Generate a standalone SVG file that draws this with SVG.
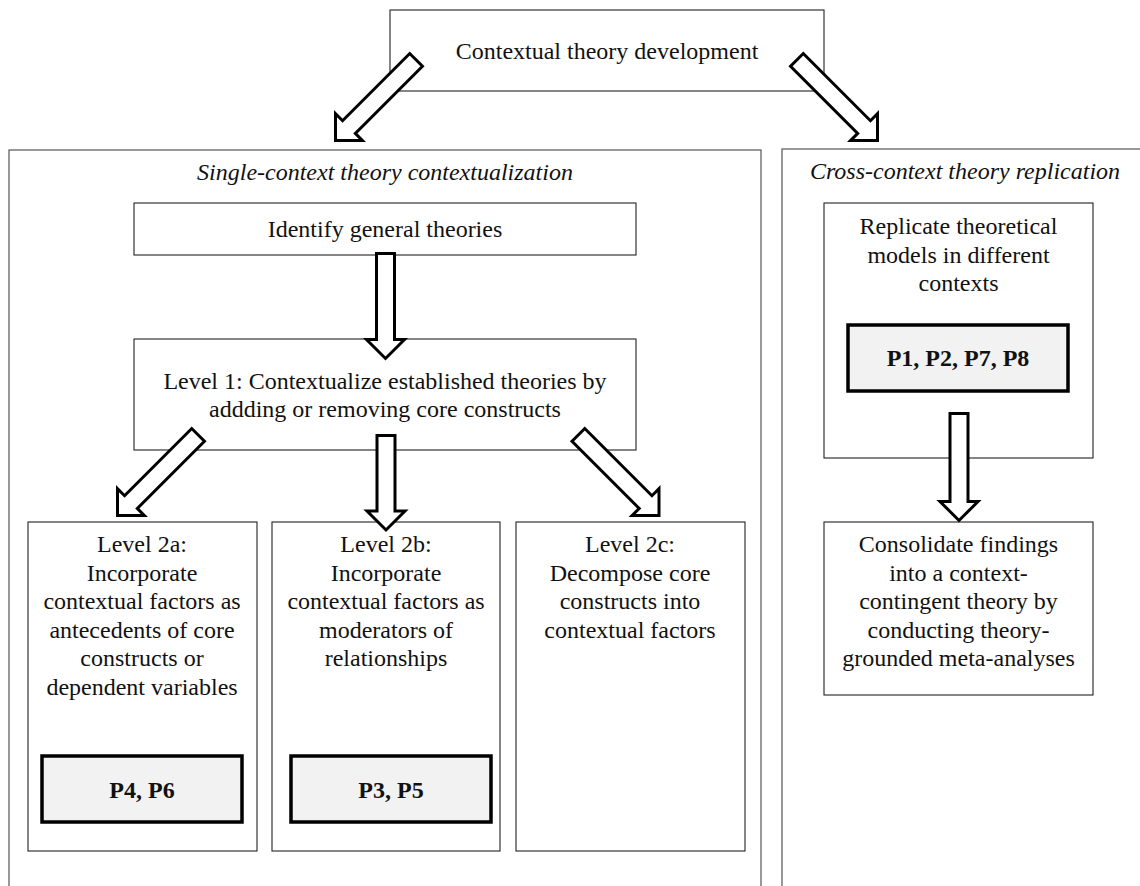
<svg xmlns="http://www.w3.org/2000/svg" width="1140" height="886" viewBox="0 0 1140 886">
<style>
  .cont{fill:none;stroke:#555;stroke-width:1.2}
  .box{fill:#fff;stroke:#222;stroke-width:1.1}
  .pbox{fill:#f2f2f2;stroke:#000;stroke-width:3.5}
  .t{font-family:"Liberation Serif","Times New Roman",serif;font-size:24px;fill:#111;text-anchor:middle}
  .it{font-style:italic}
  .b{font-weight:bold}
  .arr{fill:#fff;stroke:#000;stroke-width:3;stroke-linejoin:miter}
</style>
<defs>
  <path id="diag" d="M-114,-9 L-19,-9 L-19,-19 L0,0 L-19,19 L-19,9 L-114,9 Z"/>
</defs>
<rect width="1140" height="886" fill="#fff"/>

<g id="single-context">
  <rect class="cont" x="9" y="150" width="752" height="760"/>
  <text class="t it" x="385" y="180">Single-context theory contextualization</text>
</g>
<g id="cross-context">
  <rect class="cont" x="782" y="149" width="366" height="760"/>
  <text class="t it" x="965" y="179">Cross-context theory replication</text>
</g>

<g id="top">
  <rect class="box" x="390" y="10" width="434" height="81"/>
  <text class="t" x="607" y="59">Contextual theory development</text>
</g>

<g id="identify">
  <rect class="box" x="134" y="203" width="502" height="52"/>
  <text class="t" x="385" y="237">Identify general theories</text>
</g>

<g id="level1">
  <rect class="box" x="134" y="339" width="502" height="111"/>
  <text class="t" x="385" y="388.5">Level 1: Contextualize established theories by</text>
  <text class="t" x="385" y="417">addding or removing core constructs</text>
</g>

<g id="level2a">
  <rect class="box" x="28" y="522" width="229" height="329"/>
  <text class="t" x="142" y="552">Level 2a:</text>
  <text class="t" x="142" y="580.5">Incorporate</text>
  <text class="t" x="142" y="609">contextual factors as</text>
  <text class="t" x="142" y="637.5">antecedents of core</text>
  <text class="t" x="142" y="666">constructs or</text>
  <text class="t" x="142" y="694.5">dependent variables</text>
  <rect class="pbox" x="42" y="756" width="200" height="66"/>
  <text class="t b" x="142" y="798">P4, P6</text>
</g>

<g id="level2b">
  <rect class="box" x="272" y="522" width="228" height="329"/>
  <text class="t" x="386" y="552">Level 2b:</text>
  <text class="t" x="386" y="580.5">Incorporate</text>
  <text class="t" x="386" y="609">contextual factors as</text>
  <text class="t" x="386" y="637.5">moderators of</text>
  <text class="t" x="386" y="666">relationships</text>
  <rect class="pbox" x="291" y="756" width="200" height="66"/>
  <text class="t b" x="391" y="798">P3, P5</text>
</g>

<g id="level2c">
  <rect class="box" x="516" y="522" width="229" height="329"/>
  <text class="t" x="630" y="552">Level 2c:</text>
  <text class="t" x="630" y="580.5">Decompose core</text>
  <text class="t" x="630" y="609">constructs into</text>
  <text class="t" x="630" y="637.5">contextual factors</text>
</g>

<g id="replicate">
  <rect class="box" x="824" y="203" width="269" height="255"/>
  <text class="t" x="958.5" y="234">Replicate theoretical</text>
  <text class="t" x="958.5" y="262.5">models in different</text>
  <text class="t" x="958.5" y="291">contexts</text>
  <rect class="pbox" x="848" y="325" width="220" height="66"/>
  <text class="t b" x="958" y="366">P1, P2, P7, P8</text>
</g>

<g id="consolidate">
  <rect class="box" x="824" y="522" width="269" height="173"/>
  <text class="t" x="958.5" y="552">Consolidate findings</text>
  <text class="t" x="958.5" y="580.5">into a context-</text>
  <text class="t" x="958.5" y="609">contingent theory by</text>
  <text class="t" x="958.5" y="637.5">conducting theory-</text>
  <text class="t" x="958.5" y="666">grounded meta-analyses</text>
</g>

<g id="connectors">
  <use href="#diag" class="arr" transform="translate(335.5,140.5) rotate(135)"/>
  <use href="#diag" class="arr" transform="translate(877.5,140.5) rotate(45)"/>
  <path class="arr" d="M376.5,253.5 H394.5 V339.5 H404.5 L385.5,358.5 L366.5,339.5 H376.5 Z"/>
  <use href="#diag" class="arr" transform="translate(117.5,515.5) rotate(135)"/>
  <path class="arr" d="M377,435.5 H395 V511 H405 L386,530 L367,511 H377 Z"/>
  <use href="#diag" class="arr" transform="translate(659,515.5) rotate(45)"/>
  <path class="arr" d="M950,413.5 H968 V501.5 H978 L959,520.5 L940,501.5 H950 Z"/>
</g>
</svg>
